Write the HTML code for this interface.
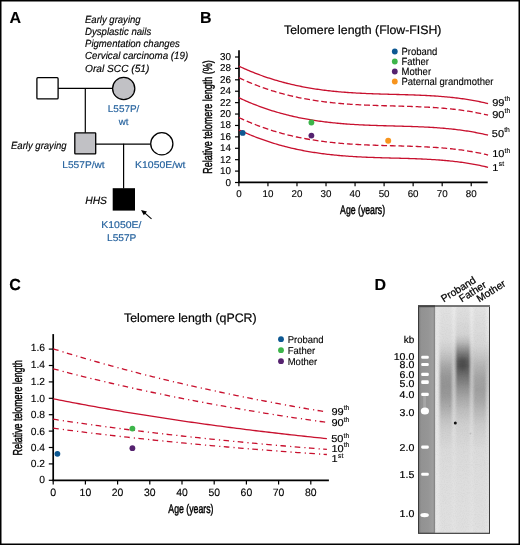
<!DOCTYPE html><html><head><meta charset="utf-8"><style>html,body{margin:0;padding:0;background:#fff;}svg{display:block;will-change:transform;}text{font-family:"Liberation Sans", sans-serif;text-rendering:geometricPrecision;}</style></head><body>
<svg width="520" height="545" viewBox="0 0 520 545">
<defs>
<filter id="blur2" x="-50%" y="-50%" width="200%" height="200%"><feGaussianBlur stdDeviation="2.5"/></filter>
<filter id="blur1" x="-50%" y="-50%" width="200%" height="200%"><feGaussianBlur stdDeviation="0.75"/></filter>
<filter id="blur4" x="-50%" y="-50%" width="200%" height="200%"><feGaussianBlur stdDeviation="4"/></filter>
<clipPath id="gelclip"><rect x="435" y="307" width="54.0" height="225.6"/></clipPath>
</defs>
<rect x="0" y="0" width="520" height="545" fill="#fff"/>
<text x="9.60" y="22.80" font-size="16.00" text-anchor="start" fill="#000" stroke="#000" stroke-width="0.12" font-weight="bold" font-style="normal" >A</text>
<text x="200.00" y="22.90" font-size="16.00" text-anchor="start" fill="#000" stroke="#000" stroke-width="0.12" font-weight="bold" font-style="normal" >B</text>
<text x="9.20" y="289.60" font-size="16.00" text-anchor="start" fill="#000" stroke="#000" stroke-width="0.12" font-weight="bold" font-style="normal" >C</text>
<text x="374.60" y="289.60" font-size="16.00" text-anchor="start" fill="#000" stroke="#000" stroke-width="0.12" font-weight="bold" font-style="normal" >D</text>
<text x="85.00" y="22.70" font-size="10.40" text-anchor="start" fill="#000" stroke="#000" stroke-width="0.15" font-weight="normal" font-style="italic" textLength="55.6" lengthAdjust="spacingAndGlyphs">Early graying</text>
<text x="85.00" y="34.90" font-size="10.40" text-anchor="start" fill="#000" stroke="#000" stroke-width="0.15" font-weight="normal" font-style="italic" textLength="66.2" lengthAdjust="spacingAndGlyphs">Dysplastic nails</text>
<text x="85.00" y="47.10" font-size="10.40" text-anchor="start" fill="#000" stroke="#000" stroke-width="0.15" font-weight="normal" font-style="italic" textLength="94.8" lengthAdjust="spacingAndGlyphs">Pigmentation changes</text>
<text x="85.00" y="59.30" font-size="10.40" text-anchor="start" fill="#000" stroke="#000" stroke-width="0.15" font-weight="normal" font-style="italic" textLength="103.2" lengthAdjust="spacingAndGlyphs">Cervical carcinoma (19)</text>
<text x="85.00" y="71.50" font-size="10.40" text-anchor="start" fill="#000" stroke="#000" stroke-width="0.15" font-weight="normal" font-style="italic" textLength="64.4" lengthAdjust="spacingAndGlyphs">Oral SCC (51)</text>
<g stroke="#000" stroke-width="1.30" fill="none">
<line x1="58.1" y1="88.4" x2="112.3" y2="88.4" stroke-width="1.25"/>
<line x1="85.3" y1="88.3" x2="85.3" y2="132.8" stroke-width="1.2"/>
<line x1="95.8" y1="144.0" x2="150.5" y2="144.0" stroke-width="1.25"/>
<line x1="123.6" y1="143.8" x2="123.6" y2="188.5" stroke-width="1.2"/>
<rect x="36.9" y="77.7" width="21.2" height="21.2" rx="1" fill="#fff"/>
<circle cx="123.7" cy="88.5" r="11.1" fill="#c1c1c5"/>
<rect x="74.8" y="132.9" width="20.9" height="21.0" rx="0.6" fill="#c1c1c5"/>
<circle cx="161.8" cy="143.8" r="11.1" fill="#fff"/>
<rect x="112.7" y="188.2" width="22.3" height="22.4" fill="#000" stroke="none"/>
<line x1="151.5" y1="218.8" x2="143.5" y2="211.9" stroke-width="1.1"/>
</g>
<path d="M141.0,209.9 L147.0,211.6 L143.8,215.3 Z" fill="#000"/>
<text x="123.60" y="112.00" font-size="9.70" text-anchor="middle" fill="#24619d" stroke="#24619d" stroke-width="0.15" font-weight="normal" font-style="normal" textLength="31.6" lengthAdjust="spacingAndGlyphs">L557P/</text>
<text x="123.70" y="124.50" font-size="9.70" text-anchor="middle" fill="#24619d" stroke="#24619d" stroke-width="0.15" font-weight="normal" font-style="normal" >wt</text>
<text x="11.00" y="149.10" font-size="10.40" text-anchor="start" fill="#000" stroke="#000" stroke-width="0.15" font-weight="normal" font-style="italic" textLength="55.6" lengthAdjust="spacingAndGlyphs">Early graying</text>
<text x="83.50" y="168.20" font-size="9.70" text-anchor="middle" fill="#24619d" stroke="#24619d" stroke-width="0.15" font-weight="normal" font-style="normal" textLength="42.4" lengthAdjust="spacingAndGlyphs">L557P/wt</text>
<text x="160.30" y="168.40" font-size="9.70" text-anchor="middle" fill="#24619d" stroke="#24619d" stroke-width="0.15" font-weight="normal" font-style="normal" textLength="50.4" lengthAdjust="spacingAndGlyphs">K1050E/wt</text>
<text x="85.20" y="203.50" font-size="10.40" text-anchor="start" fill="#000" stroke="#000" stroke-width="0.15" font-weight="normal" font-style="italic" textLength="21.8" lengthAdjust="spacingAndGlyphs">HHS</text>
<text x="121.40" y="227.80" font-size="9.70" text-anchor="middle" fill="#24619d" stroke="#24619d" stroke-width="0.15" font-weight="normal" font-style="normal" textLength="40.2" lengthAdjust="spacingAndGlyphs">K1050E/</text>
<text x="121.70" y="240.50" font-size="9.70" text-anchor="middle" fill="#24619d" stroke="#24619d" stroke-width="0.15" font-weight="normal" font-style="normal" textLength="29.4" lengthAdjust="spacingAndGlyphs">L557P</text>
<text x="284.00" y="33.60" font-size="12.30" text-anchor="start" fill="#000" stroke="#000" stroke-width="0.20" font-weight="normal" font-style="normal" textLength="157.4" lengthAdjust="spacingAndGlyphs">Telomere length (Flow-FISH)</text>
<g stroke="#000" stroke-width="1.4" fill="none">
<line x1="239" y1="50.2" x2="239" y2="183.1" stroke-width="1.7"/>
<line x1="238.2" y1="182.3" x2="487.7" y2="182.3" stroke-width="1.7"/>
<line x1="235" y1="57.00" x2="239" y2="57.00" stroke-width="1.2"/>
<line x1="235" y1="68.41" x2="239" y2="68.41" stroke-width="1.2"/>
<line x1="235" y1="79.82" x2="239" y2="79.82" stroke-width="1.2"/>
<line x1="235" y1="91.23" x2="239" y2="91.23" stroke-width="1.2"/>
<line x1="235" y1="102.64" x2="239" y2="102.64" stroke-width="1.2"/>
<line x1="235" y1="114.05" x2="239" y2="114.05" stroke-width="1.2"/>
<line x1="235" y1="125.46" x2="239" y2="125.46" stroke-width="1.2"/>
<line x1="235" y1="136.87" x2="239" y2="136.87" stroke-width="1.2"/>
<line x1="235" y1="148.28" x2="239" y2="148.28" stroke-width="1.2"/>
<line x1="235" y1="159.69" x2="239" y2="159.69" stroke-width="1.2"/>
<line x1="235" y1="171.10" x2="239" y2="171.10" stroke-width="1.2"/>
<line x1="235" y1="182.51" x2="239" y2="182.51" stroke-width="1.2"/>
<line x1="238.90" y1="182.2" x2="238.90" y2="186.2" stroke-width="1.2"/>
<line x1="267.94" y1="182.2" x2="267.94" y2="186.2" stroke-width="1.2"/>
<line x1="296.98" y1="182.2" x2="296.98" y2="186.2" stroke-width="1.2"/>
<line x1="326.02" y1="182.2" x2="326.02" y2="186.2" stroke-width="1.2"/>
<line x1="355.06" y1="182.2" x2="355.06" y2="186.2" stroke-width="1.2"/>
<line x1="384.10" y1="182.2" x2="384.10" y2="186.2" stroke-width="1.2"/>
<line x1="413.14" y1="182.2" x2="413.14" y2="186.2" stroke-width="1.2"/>
<line x1="442.18" y1="182.2" x2="442.18" y2="186.2" stroke-width="1.2"/>
<line x1="471.22" y1="182.2" x2="471.22" y2="186.2" stroke-width="1.2"/>
</g>
<text x="231.00" y="60.00" font-size="9.90" text-anchor="end" fill="#000" stroke="#000" stroke-width="0.12" font-weight="normal" font-style="normal" >30</text>
<text x="231.00" y="71.41" font-size="9.90" text-anchor="end" fill="#000" stroke="#000" stroke-width="0.12" font-weight="normal" font-style="normal" >28</text>
<text x="231.00" y="82.82" font-size="9.90" text-anchor="end" fill="#000" stroke="#000" stroke-width="0.12" font-weight="normal" font-style="normal" >26</text>
<text x="231.00" y="94.23" font-size="9.90" text-anchor="end" fill="#000" stroke="#000" stroke-width="0.12" font-weight="normal" font-style="normal" >24</text>
<text x="231.00" y="105.64" font-size="9.90" text-anchor="end" fill="#000" stroke="#000" stroke-width="0.12" font-weight="normal" font-style="normal" >22</text>
<text x="231.00" y="117.05" font-size="9.90" text-anchor="end" fill="#000" stroke="#000" stroke-width="0.12" font-weight="normal" font-style="normal" >20</text>
<text x="231.00" y="128.46" font-size="9.90" text-anchor="end" fill="#000" stroke="#000" stroke-width="0.12" font-weight="normal" font-style="normal" >18</text>
<text x="231.00" y="139.87" font-size="9.90" text-anchor="end" fill="#000" stroke="#000" stroke-width="0.12" font-weight="normal" font-style="normal" >16</text>
<text x="231.00" y="151.28" font-size="9.90" text-anchor="end" fill="#000" stroke="#000" stroke-width="0.12" font-weight="normal" font-style="normal" >14</text>
<text x="231.00" y="162.69" font-size="9.90" text-anchor="end" fill="#000" stroke="#000" stroke-width="0.12" font-weight="normal" font-style="normal" >12</text>
<text x="231.00" y="174.10" font-size="9.90" text-anchor="end" fill="#000" stroke="#000" stroke-width="0.12" font-weight="normal" font-style="normal" >10</text>
<text x="231.00" y="185.51" font-size="9.90" text-anchor="end" fill="#000" stroke="#000" stroke-width="0.12" font-weight="normal" font-style="normal" >0</text>
<text x="238.90" y="196.70" font-size="9.80" text-anchor="middle" fill="#000" stroke="#000" stroke-width="0.12" font-weight="normal" font-style="normal" >0</text>
<text x="267.94" y="196.70" font-size="9.80" text-anchor="middle" fill="#000" stroke="#000" stroke-width="0.12" font-weight="normal" font-style="normal" >10</text>
<text x="296.98" y="196.70" font-size="9.80" text-anchor="middle" fill="#000" stroke="#000" stroke-width="0.12" font-weight="normal" font-style="normal" >20</text>
<text x="326.02" y="196.70" font-size="9.80" text-anchor="middle" fill="#000" stroke="#000" stroke-width="0.12" font-weight="normal" font-style="normal" >30</text>
<text x="355.06" y="196.70" font-size="9.80" text-anchor="middle" fill="#000" stroke="#000" stroke-width="0.12" font-weight="normal" font-style="normal" >40</text>
<text x="384.10" y="196.70" font-size="9.80" text-anchor="middle" fill="#000" stroke="#000" stroke-width="0.12" font-weight="normal" font-style="normal" >50</text>
<text x="413.14" y="196.70" font-size="9.80" text-anchor="middle" fill="#000" stroke="#000" stroke-width="0.12" font-weight="normal" font-style="normal" >60</text>
<text x="442.18" y="196.70" font-size="9.80" text-anchor="middle" fill="#000" stroke="#000" stroke-width="0.12" font-weight="normal" font-style="normal" >70</text>
<text x="471.22" y="196.70" font-size="9.80" text-anchor="middle" fill="#000" stroke="#000" stroke-width="0.12" font-weight="normal" font-style="normal" >80</text>
<text transform="translate(212.0,173.8) rotate(-90)" x="0" y="0" font-size="13" textLength="113.6" lengthAdjust="spacingAndGlyphs" stroke="#000" stroke-width="0.45">Relative telomere length (%)</text>
<text x="340.1" y="213.9" font-size="12.5" textLength="45" lengthAdjust="spacingAndGlyphs" stroke="#000" stroke-width="0.45">Age (years)</text>
<g fill="none" stroke="#c8102e" stroke-width="1.3">
<path d="M238.90,66.17 L240.35,66.84 L241.80,67.51 L243.26,68.17 L244.71,68.81 L246.16,69.45 L247.61,70.07 L249.06,70.69 L250.52,71.29 L251.97,71.89 L253.42,72.47 L254.87,73.04 L256.32,73.61 L257.78,74.16 L259.23,74.70 L260.68,75.24 L262.13,75.76 L263.58,76.28 L265.04,76.78 L266.49,77.27 L267.94,77.76 L269.39,78.24 L270.84,78.70 L272.30,79.16 L273.75,79.61 L275.20,80.05 L276.65,80.48 L278.10,80.90 L279.56,81.31 L281.01,81.72 L282.46,82.11 L283.91,82.50 L285.36,82.88 L286.82,83.25 L288.27,83.61 L289.72,83.96 L291.17,84.31 L292.62,84.65 L294.08,84.98 L295.53,85.30 L296.98,85.61 L298.43,85.92 L299.88,86.22 L301.34,86.51 L302.79,86.79 L304.24,87.07 L305.69,87.34 L307.14,87.60 L308.60,87.86 L310.05,88.11 L311.50,88.35 L312.95,88.58 L314.40,88.81 L315.86,89.03 L317.31,89.25 L318.76,89.46 L320.21,89.66 L321.66,89.86 L323.12,90.05 L324.57,90.23 L326.02,90.41 L327.47,90.59 L328.92,90.75 L330.38,90.92 L331.83,91.07 L333.28,91.23 L334.73,91.37 L336.18,91.51 L337.64,91.65 L339.09,91.78 L340.54,91.91 L341.99,92.03 L343.44,92.15 L344.90,92.27 L346.35,92.38 L347.80,92.48 L349.25,92.58 L350.70,92.68 L352.16,92.77 L353.61,92.86 L355.06,92.95 L356.51,93.03 L357.96,93.11 L359.42,93.19 L360.87,93.27 L362.32,93.34 L363.77,93.40 L365.22,93.47 L366.68,93.53 L368.13,93.59 L369.58,93.65 L371.03,93.71 L372.48,93.76 L373.94,93.81 L375.39,93.86 L376.84,93.91 L378.29,93.96 L379.74,94.00 L381.20,94.05 L382.65,94.09 L384.10,94.13 L385.55,94.17 L387.00,94.21 L388.46,94.25 L389.91,94.29 L391.36,94.33 L392.81,94.37 L394.26,94.41 L395.72,94.45 L397.17,94.48 L398.62,94.52 L400.07,94.56 L401.52,94.60 L402.98,94.64 L404.43,94.68 L405.88,94.73 L407.33,94.77 L408.78,94.82 L410.24,94.86 L411.69,94.91 L413.14,94.96 L414.59,95.01 L416.04,95.07 L417.50,95.12 L418.95,95.18 L420.40,95.24 L421.85,95.30 L423.30,95.37 L424.76,95.44 L426.21,95.51 L427.66,95.59 L429.11,95.66 L430.56,95.75 L432.02,95.83 L433.47,95.92 L434.92,96.01 L436.37,96.11 L437.82,96.21 L439.28,96.32 L440.73,96.43 L442.18,96.55 L443.63,96.67 L445.08,96.79 L446.54,96.93 L447.99,97.06 L449.44,97.20 L450.89,97.35 L452.34,97.50 L453.80,97.66 L455.25,97.83 L456.70,98.00 L458.15,98.18 L459.60,98.37 L461.06,98.56 L462.51,98.76 L463.96,98.97 L465.41,99.18 L466.86,99.40 L468.32,99.63 L469.77,99.87 L471.22,100.11 L472.67,100.37 L474.12,100.63 L475.58,100.90 L477.03,101.18 L478.48,101.47 L479.93,101.76 L481.38,102.07 L482.84,102.39 L484.29,102.71 L485.74,103.05 L487.19,103.39 L488.06,103.60"/>
<path d="M238.90,77.77 L240.35,78.44 L241.80,79.11 L243.26,79.77 L244.71,80.41 L246.16,81.05 L247.61,81.67 L249.06,82.29 L250.52,82.89 L251.97,83.49 L253.42,84.07 L254.87,84.64 L256.32,85.21 L257.78,85.76 L259.23,86.30 L260.68,86.84 L262.13,87.36 L263.58,87.88 L265.04,88.38 L266.49,88.87 L267.94,89.36 L269.39,89.84 L270.84,90.30 L272.30,90.76 L273.75,91.21 L275.20,91.65 L276.65,92.08 L278.10,92.50 L279.56,92.91 L281.01,93.32 L282.46,93.71 L283.91,94.10 L285.36,94.48 L286.82,94.85 L288.27,95.21 L289.72,95.56 L291.17,95.91 L292.62,96.25 L294.08,96.58 L295.53,96.90 L296.98,97.21 L298.43,97.52 L299.88,97.82 L301.34,98.11 L302.79,98.39 L304.24,98.67 L305.69,98.94 L307.14,99.20 L308.60,99.46 L310.05,99.71 L311.50,99.95 L312.95,100.18 L314.40,100.41 L315.86,100.63 L317.31,100.85 L318.76,101.06 L320.21,101.26 L321.66,101.46 L323.12,101.65 L324.57,101.83 L326.02,102.01 L327.47,102.19 L328.92,102.35 L330.38,102.52 L331.83,102.67 L333.28,102.83 L334.73,102.97 L336.18,103.11 L337.64,103.25 L339.09,103.38 L340.54,103.51 L341.99,103.63 L343.44,103.75 L344.90,103.87 L346.35,103.98 L347.80,104.08 L349.25,104.18 L350.70,104.28 L352.16,104.37 L353.61,104.46 L355.06,104.55 L356.51,104.63 L357.96,104.71 L359.42,104.79 L360.87,104.87 L362.32,104.94 L363.77,105.00 L365.22,105.07 L366.68,105.13 L368.13,105.19 L369.58,105.25 L371.03,105.31 L372.48,105.36 L373.94,105.41 L375.39,105.46 L376.84,105.51 L378.29,105.56 L379.74,105.60 L381.20,105.65 L382.65,105.69 L384.10,105.73 L385.55,105.77 L387.00,105.81 L388.46,105.85 L389.91,105.89 L391.36,105.93 L392.81,105.97 L394.26,106.01 L395.72,106.05 L397.17,106.08 L398.62,106.12 L400.07,106.16 L401.52,106.20 L402.98,106.24 L404.43,106.28 L405.88,106.33 L407.33,106.37 L408.78,106.42 L410.24,106.46 L411.69,106.51 L413.14,106.56 L414.59,106.61 L416.04,106.67 L417.50,106.72 L418.95,106.78 L420.40,106.84 L421.85,106.90 L423.30,106.97 L424.76,107.04 L426.21,107.11 L427.66,107.19 L429.11,107.26 L430.56,107.35 L432.02,107.43 L433.47,107.52 L434.92,107.61 L436.37,107.71 L437.82,107.81 L439.28,107.92 L440.73,108.03 L442.18,108.15 L443.63,108.27 L445.08,108.39 L446.54,108.53 L447.99,108.66 L449.44,108.80 L450.89,108.95 L452.34,109.10 L453.80,109.26 L455.25,109.43 L456.70,109.60 L458.15,109.78 L459.60,109.97 L461.06,110.16 L462.51,110.36 L463.96,110.57 L465.41,110.78 L466.86,111.00 L468.32,111.23 L469.77,111.47 L471.22,111.71 L472.67,111.97 L474.12,112.23 L475.58,112.50 L477.03,112.78 L478.48,113.07 L479.93,113.36 L481.38,113.67 L482.84,113.99 L484.29,114.31 L485.74,114.65 L487.19,114.99 L488.06,115.20" stroke-dasharray="5.8 2.8"/>
<path d="M238.90,97.77 L240.35,98.44 L241.80,99.11 L243.26,99.77 L244.71,100.41 L246.16,101.05 L247.61,101.67 L249.06,102.29 L250.52,102.89 L251.97,103.49 L253.42,104.07 L254.87,104.64 L256.32,105.21 L257.78,105.76 L259.23,106.30 L260.68,106.84 L262.13,107.36 L263.58,107.88 L265.04,108.38 L266.49,108.87 L267.94,109.36 L269.39,109.84 L270.84,110.30 L272.30,110.76 L273.75,111.21 L275.20,111.65 L276.65,112.08 L278.10,112.50 L279.56,112.91 L281.01,113.32 L282.46,113.71 L283.91,114.10 L285.36,114.48 L286.82,114.85 L288.27,115.21 L289.72,115.56 L291.17,115.91 L292.62,116.25 L294.08,116.58 L295.53,116.90 L296.98,117.21 L298.43,117.52 L299.88,117.82 L301.34,118.11 L302.79,118.39 L304.24,118.67 L305.69,118.94 L307.14,119.20 L308.60,119.46 L310.05,119.71 L311.50,119.95 L312.95,120.18 L314.40,120.41 L315.86,120.63 L317.31,120.85 L318.76,121.06 L320.21,121.26 L321.66,121.46 L323.12,121.65 L324.57,121.83 L326.02,122.01 L327.47,122.19 L328.92,122.35 L330.38,122.52 L331.83,122.67 L333.28,122.83 L334.73,122.97 L336.18,123.11 L337.64,123.25 L339.09,123.38 L340.54,123.51 L341.99,123.63 L343.44,123.75 L344.90,123.87 L346.35,123.98 L347.80,124.08 L349.25,124.18 L350.70,124.28 L352.16,124.37 L353.61,124.46 L355.06,124.55 L356.51,124.63 L357.96,124.71 L359.42,124.79 L360.87,124.87 L362.32,124.94 L363.77,125.00 L365.22,125.07 L366.68,125.13 L368.13,125.19 L369.58,125.25 L371.03,125.31 L372.48,125.36 L373.94,125.41 L375.39,125.46 L376.84,125.51 L378.29,125.56 L379.74,125.60 L381.20,125.65 L382.65,125.69 L384.10,125.73 L385.55,125.77 L387.00,125.81 L388.46,125.85 L389.91,125.89 L391.36,125.93 L392.81,125.97 L394.26,126.01 L395.72,126.05 L397.17,126.08 L398.62,126.12 L400.07,126.16 L401.52,126.20 L402.98,126.24 L404.43,126.28 L405.88,126.33 L407.33,126.37 L408.78,126.42 L410.24,126.46 L411.69,126.51 L413.14,126.56 L414.59,126.61 L416.04,126.67 L417.50,126.72 L418.95,126.78 L420.40,126.84 L421.85,126.90 L423.30,126.97 L424.76,127.04 L426.21,127.11 L427.66,127.19 L429.11,127.26 L430.56,127.35 L432.02,127.43 L433.47,127.52 L434.92,127.61 L436.37,127.71 L437.82,127.81 L439.28,127.92 L440.73,128.03 L442.18,128.15 L443.63,128.27 L445.08,128.39 L446.54,128.53 L447.99,128.66 L449.44,128.80 L450.89,128.95 L452.34,129.10 L453.80,129.26 L455.25,129.43 L456.70,129.60 L458.15,129.78 L459.60,129.97 L461.06,130.16 L462.51,130.36 L463.96,130.57 L465.41,130.78 L466.86,131.00 L468.32,131.23 L469.77,131.47 L471.22,131.71 L472.67,131.97 L474.12,132.23 L475.58,132.50 L477.03,132.78 L478.48,133.07 L479.93,133.36 L481.38,133.67 L482.84,133.99 L484.29,134.31 L485.74,134.65 L487.19,134.99 L488.06,135.20"/>
<path d="M238.90,117.57 L240.35,118.24 L241.80,118.91 L243.26,119.57 L244.71,120.21 L246.16,120.85 L247.61,121.47 L249.06,122.09 L250.52,122.69 L251.97,123.29 L253.42,123.87 L254.87,124.44 L256.32,125.01 L257.78,125.56 L259.23,126.10 L260.68,126.64 L262.13,127.16 L263.58,127.68 L265.04,128.18 L266.49,128.67 L267.94,129.16 L269.39,129.64 L270.84,130.10 L272.30,130.56 L273.75,131.01 L275.20,131.45 L276.65,131.88 L278.10,132.30 L279.56,132.71 L281.01,133.12 L282.46,133.51 L283.91,133.90 L285.36,134.28 L286.82,134.65 L288.27,135.01 L289.72,135.36 L291.17,135.71 L292.62,136.05 L294.08,136.38 L295.53,136.70 L296.98,137.01 L298.43,137.32 L299.88,137.62 L301.34,137.91 L302.79,138.19 L304.24,138.47 L305.69,138.74 L307.14,139.00 L308.60,139.26 L310.05,139.51 L311.50,139.75 L312.95,139.98 L314.40,140.21 L315.86,140.43 L317.31,140.65 L318.76,140.86 L320.21,141.06 L321.66,141.26 L323.12,141.45 L324.57,141.63 L326.02,141.81 L327.47,141.99 L328.92,142.15 L330.38,142.32 L331.83,142.47 L333.28,142.63 L334.73,142.77 L336.18,142.91 L337.64,143.05 L339.09,143.18 L340.54,143.31 L341.99,143.43 L343.44,143.55 L344.90,143.67 L346.35,143.78 L347.80,143.88 L349.25,143.98 L350.70,144.08 L352.16,144.17 L353.61,144.26 L355.06,144.35 L356.51,144.43 L357.96,144.51 L359.42,144.59 L360.87,144.67 L362.32,144.74 L363.77,144.80 L365.22,144.87 L366.68,144.93 L368.13,144.99 L369.58,145.05 L371.03,145.11 L372.48,145.16 L373.94,145.21 L375.39,145.26 L376.84,145.31 L378.29,145.36 L379.74,145.40 L381.20,145.45 L382.65,145.49 L384.10,145.53 L385.55,145.57 L387.00,145.61 L388.46,145.65 L389.91,145.69 L391.36,145.73 L392.81,145.77 L394.26,145.81 L395.72,145.85 L397.17,145.88 L398.62,145.92 L400.07,145.96 L401.52,146.00 L402.98,146.04 L404.43,146.08 L405.88,146.13 L407.33,146.17 L408.78,146.22 L410.24,146.26 L411.69,146.31 L413.14,146.36 L414.59,146.41 L416.04,146.47 L417.50,146.52 L418.95,146.58 L420.40,146.64 L421.85,146.70 L423.30,146.77 L424.76,146.84 L426.21,146.91 L427.66,146.99 L429.11,147.06 L430.56,147.15 L432.02,147.23 L433.47,147.32 L434.92,147.41 L436.37,147.51 L437.82,147.61 L439.28,147.72 L440.73,147.83 L442.18,147.95 L443.63,148.07 L445.08,148.19 L446.54,148.33 L447.99,148.46 L449.44,148.60 L450.89,148.75 L452.34,148.90 L453.80,149.06 L455.25,149.23 L456.70,149.40 L458.15,149.58 L459.60,149.77 L461.06,149.96 L462.51,150.16 L463.96,150.37 L465.41,150.58 L466.86,150.80 L468.32,151.03 L469.77,151.27 L471.22,151.51 L472.67,151.77 L474.12,152.03 L475.58,152.30 L477.03,152.58 L478.48,152.87 L479.93,153.16 L481.38,153.47 L482.84,153.79 L484.29,154.11 L485.74,154.45 L487.19,154.79 L488.06,155.00" stroke-dasharray="5.8 2.8"/>
<path d="M238.90,129.87 L240.35,130.54 L241.80,131.21 L243.26,131.87 L244.71,132.51 L246.16,133.15 L247.61,133.77 L249.06,134.39 L250.52,134.99 L251.97,135.59 L253.42,136.17 L254.87,136.74 L256.32,137.31 L257.78,137.86 L259.23,138.40 L260.68,138.94 L262.13,139.46 L263.58,139.98 L265.04,140.48 L266.49,140.97 L267.94,141.46 L269.39,141.94 L270.84,142.40 L272.30,142.86 L273.75,143.31 L275.20,143.75 L276.65,144.18 L278.10,144.60 L279.56,145.01 L281.01,145.42 L282.46,145.81 L283.91,146.20 L285.36,146.58 L286.82,146.95 L288.27,147.31 L289.72,147.66 L291.17,148.01 L292.62,148.35 L294.08,148.68 L295.53,149.00 L296.98,149.31 L298.43,149.62 L299.88,149.92 L301.34,150.21 L302.79,150.49 L304.24,150.77 L305.69,151.04 L307.14,151.30 L308.60,151.56 L310.05,151.81 L311.50,152.05 L312.95,152.28 L314.40,152.51 L315.86,152.73 L317.31,152.95 L318.76,153.16 L320.21,153.36 L321.66,153.56 L323.12,153.75 L324.57,153.93 L326.02,154.11 L327.47,154.29 L328.92,154.45 L330.38,154.62 L331.83,154.77 L333.28,154.93 L334.73,155.07 L336.18,155.21 L337.64,155.35 L339.09,155.48 L340.54,155.61 L341.99,155.73 L343.44,155.85 L344.90,155.97 L346.35,156.08 L347.80,156.18 L349.25,156.28 L350.70,156.38 L352.16,156.47 L353.61,156.56 L355.06,156.65 L356.51,156.73 L357.96,156.81 L359.42,156.89 L360.87,156.97 L362.32,157.04 L363.77,157.10 L365.22,157.17 L366.68,157.23 L368.13,157.29 L369.58,157.35 L371.03,157.41 L372.48,157.46 L373.94,157.51 L375.39,157.56 L376.84,157.61 L378.29,157.66 L379.74,157.70 L381.20,157.75 L382.65,157.79 L384.10,157.83 L385.55,157.87 L387.00,157.91 L388.46,157.95 L389.91,157.99 L391.36,158.03 L392.81,158.07 L394.26,158.11 L395.72,158.15 L397.17,158.18 L398.62,158.22 L400.07,158.26 L401.52,158.30 L402.98,158.34 L404.43,158.38 L405.88,158.43 L407.33,158.47 L408.78,158.52 L410.24,158.56 L411.69,158.61 L413.14,158.66 L414.59,158.71 L416.04,158.77 L417.50,158.82 L418.95,158.88 L420.40,158.94 L421.85,159.00 L423.30,159.07 L424.76,159.14 L426.21,159.21 L427.66,159.29 L429.11,159.36 L430.56,159.45 L432.02,159.53 L433.47,159.62 L434.92,159.71 L436.37,159.81 L437.82,159.91 L439.28,160.02 L440.73,160.13 L442.18,160.25 L443.63,160.37 L445.08,160.49 L446.54,160.63 L447.99,160.76 L449.44,160.90 L450.89,161.05 L452.34,161.20 L453.80,161.36 L455.25,161.53 L456.70,161.70 L458.15,161.88 L459.60,162.07 L461.06,162.26 L462.51,162.46 L463.96,162.67 L465.41,162.88 L466.86,163.10 L468.32,163.33 L469.77,163.57 L471.22,163.81 L472.67,164.07 L474.12,164.33 L475.58,164.60 L477.03,164.88 L478.48,165.17 L479.93,165.46 L481.38,165.77 L482.84,166.09 L484.29,166.41 L485.74,166.75 L487.19,167.09 L488.06,167.30"/>
</g>
<text x="492.20" y="105.60" font-size="10.00" stroke="#000" stroke-width="0.15" textLength="12.23" lengthAdjust="spacingAndGlyphs">99</text>
<text x="504.53" y="100.70" font-size="6.80" stroke="#000" stroke-width="0.1">th</text>
<text x="492.20" y="117.80" font-size="10.00" stroke="#000" stroke-width="0.15" textLength="12.23" lengthAdjust="spacingAndGlyphs">90</text>
<text x="504.53" y="112.90" font-size="6.80" stroke="#000" stroke-width="0.1">th</text>
<text x="491.80" y="137.10" font-size="10.00" stroke="#000" stroke-width="0.15" textLength="12.23" lengthAdjust="spacingAndGlyphs">50</text>
<text x="504.13" y="132.20" font-size="6.80" stroke="#000" stroke-width="0.1">th</text>
<text x="492.20" y="157.40" font-size="10.00" stroke="#000" stroke-width="0.15" textLength="12.23" lengthAdjust="spacingAndGlyphs">10</text>
<text x="504.53" y="152.50" font-size="6.80" stroke="#000" stroke-width="0.1">th</text>
<text x="492.20" y="170.80" font-size="10.00" stroke="#000" stroke-width="0.15" textLength="6.12" lengthAdjust="spacingAndGlyphs">1</text>
<text x="498.82" y="165.90" font-size="6.80" stroke="#000" stroke-width="0.1">st</text>
<circle cx="242.7" cy="132.9" r="2.9" fill="#0d5892"/>
<circle cx="311.4" cy="122.5" r="2.9" fill="#3db54a"/>
<circle cx="311.4" cy="135.6" r="2.9" fill="#55226f"/>
<circle cx="388.2" cy="140.7" r="3.0" fill="#f7941d"/>
<circle cx="394.8" cy="51.50" r="2.9" fill="#0d5892"/>
<text x="401.50" y="54.85" font-size="10.40" text-anchor="start" fill="#000" stroke="#000" stroke-width="0.12" font-weight="normal" font-style="normal" textLength="35.91" lengthAdjust="spacingAndGlyphs">Proband</text>
<circle cx="394.8" cy="61.50" r="2.9" fill="#3db54a"/>
<text x="401.50" y="64.85" font-size="10.40" text-anchor="start" fill="#000" stroke="#000" stroke-width="0.12" font-weight="normal" font-style="normal" textLength="27.45" lengthAdjust="spacingAndGlyphs">Father</text>
<circle cx="394.8" cy="71.50" r="2.9" fill="#55226f"/>
<text x="401.50" y="74.85" font-size="10.40" text-anchor="start" fill="#000" stroke="#000" stroke-width="0.12" font-weight="normal" font-style="normal" textLength="29.56" lengthAdjust="spacingAndGlyphs">Mother</text>
<circle cx="394.8" cy="81.50" r="2.9" fill="#f7941d"/>
<text x="401.50" y="84.85" font-size="10.40" text-anchor="start" fill="#000" stroke="#000" stroke-width="0.12" font-weight="normal" font-style="normal" textLength="91.88" lengthAdjust="spacingAndGlyphs">Paternal grandmother</text>
<text x="124.00" y="322.10" font-size="12.30" text-anchor="start" fill="#000" stroke="#000" stroke-width="0.20" font-weight="normal" font-style="normal" textLength="132.6" lengthAdjust="spacingAndGlyphs">Telomere length (qPCR)</text>
<g stroke="#000" stroke-width="1.4" fill="none">
<line x1="53.2" y1="334.1" x2="53.2" y2="481.1" stroke-width="1.7"/>
<line x1="52.4" y1="480.3" x2="328.9" y2="480.3" stroke-width="1.7"/>
<line x1="48.8" y1="480.30" x2="53.2" y2="480.30" stroke-width="1.2"/>
<line x1="48.8" y1="463.90" x2="53.2" y2="463.90" stroke-width="1.2"/>
<line x1="48.8" y1="447.50" x2="53.2" y2="447.50" stroke-width="1.2"/>
<line x1="48.8" y1="431.10" x2="53.2" y2="431.10" stroke-width="1.2"/>
<line x1="48.8" y1="414.70" x2="53.2" y2="414.70" stroke-width="1.2"/>
<line x1="48.8" y1="398.30" x2="53.2" y2="398.30" stroke-width="1.2"/>
<line x1="48.8" y1="381.90" x2="53.2" y2="381.90" stroke-width="1.2"/>
<line x1="48.8" y1="365.50" x2="53.2" y2="365.50" stroke-width="1.2"/>
<line x1="48.8" y1="349.10" x2="53.2" y2="349.10" stroke-width="1.2"/>
<line x1="53.20" y1="480.3" x2="53.20" y2="484.4" stroke-width="1.2"/>
<line x1="85.40" y1="480.3" x2="85.40" y2="484.4" stroke-width="1.2"/>
<line x1="117.60" y1="480.3" x2="117.60" y2="484.4" stroke-width="1.2"/>
<line x1="149.80" y1="480.3" x2="149.80" y2="484.4" stroke-width="1.2"/>
<line x1="182.00" y1="480.3" x2="182.00" y2="484.4" stroke-width="1.2"/>
<line x1="214.20" y1="480.3" x2="214.20" y2="484.4" stroke-width="1.2"/>
<line x1="246.40" y1="480.3" x2="246.40" y2="484.4" stroke-width="1.2"/>
<line x1="278.60" y1="480.3" x2="278.60" y2="484.4" stroke-width="1.2"/>
<line x1="310.80" y1="480.3" x2="310.80" y2="484.4" stroke-width="1.2"/>
</g>
<text x="45.00" y="483.29" font-size="10.30" text-anchor="end" fill="#000" stroke="#000" stroke-width="0.12" font-weight="normal" font-style="normal" >0</text>
<text x="45.00" y="467.39" font-size="10.30" text-anchor="end" fill="#000" stroke="#000" stroke-width="0.12" font-weight="normal" font-style="normal" textLength="14.3" lengthAdjust="spacingAndGlyphs">0.2</text>
<text x="45.00" y="451.19" font-size="10.30" text-anchor="end" fill="#000" stroke="#000" stroke-width="0.12" font-weight="normal" font-style="normal" textLength="14.3" lengthAdjust="spacingAndGlyphs">0.4</text>
<text x="45.00" y="434.69" font-size="10.30" text-anchor="end" fill="#000" stroke="#000" stroke-width="0.12" font-weight="normal" font-style="normal" textLength="14.3" lengthAdjust="spacingAndGlyphs">0.6</text>
<text x="45.00" y="418.49" font-size="10.30" text-anchor="end" fill="#000" stroke="#000" stroke-width="0.12" font-weight="normal" font-style="normal" textLength="14.3" lengthAdjust="spacingAndGlyphs">0.8</text>
<text x="45.00" y="402.19" font-size="10.30" text-anchor="end" fill="#000" stroke="#000" stroke-width="0.12" font-weight="normal" font-style="normal" textLength="14.3" lengthAdjust="spacingAndGlyphs">1.0</text>
<text x="45.00" y="385.39" font-size="10.30" text-anchor="end" fill="#000" stroke="#000" stroke-width="0.12" font-weight="normal" font-style="normal" textLength="14.3" lengthAdjust="spacingAndGlyphs">1.2</text>
<text x="45.00" y="368.49" font-size="10.30" text-anchor="end" fill="#000" stroke="#000" stroke-width="0.12" font-weight="normal" font-style="normal" textLength="14.3" lengthAdjust="spacingAndGlyphs">1.4</text>
<text x="45.00" y="351.29" font-size="10.30" text-anchor="end" fill="#000" stroke="#000" stroke-width="0.12" font-weight="normal" font-style="normal" textLength="14.3" lengthAdjust="spacingAndGlyphs">1.6</text>
<text x="53.20" y="496.40" font-size="10.60" text-anchor="middle" fill="#000" stroke="#000" stroke-width="0.12" font-weight="normal" font-style="normal" >0</text>
<text x="85.40" y="496.40" font-size="10.60" text-anchor="middle" fill="#000" stroke="#000" stroke-width="0.12" font-weight="normal" font-style="normal" textLength="11.6" lengthAdjust="spacingAndGlyphs">10</text>
<text x="117.60" y="496.40" font-size="10.60" text-anchor="middle" fill="#000" stroke="#000" stroke-width="0.12" font-weight="normal" font-style="normal" textLength="11.6" lengthAdjust="spacingAndGlyphs">20</text>
<text x="149.80" y="496.40" font-size="10.60" text-anchor="middle" fill="#000" stroke="#000" stroke-width="0.12" font-weight="normal" font-style="normal" textLength="11.6" lengthAdjust="spacingAndGlyphs">30</text>
<text x="182.00" y="496.40" font-size="10.60" text-anchor="middle" fill="#000" stroke="#000" stroke-width="0.12" font-weight="normal" font-style="normal" textLength="11.6" lengthAdjust="spacingAndGlyphs">40</text>
<text x="214.20" y="496.40" font-size="10.60" text-anchor="middle" fill="#000" stroke="#000" stroke-width="0.12" font-weight="normal" font-style="normal" textLength="11.6" lengthAdjust="spacingAndGlyphs">50</text>
<text x="246.40" y="496.40" font-size="10.60" text-anchor="middle" fill="#000" stroke="#000" stroke-width="0.12" font-weight="normal" font-style="normal" textLength="11.6" lengthAdjust="spacingAndGlyphs">60</text>
<text x="278.60" y="496.40" font-size="10.60" text-anchor="middle" fill="#000" stroke="#000" stroke-width="0.12" font-weight="normal" font-style="normal" textLength="11.6" lengthAdjust="spacingAndGlyphs">70</text>
<text x="310.80" y="496.40" font-size="10.60" text-anchor="middle" fill="#000" stroke="#000" stroke-width="0.12" font-weight="normal" font-style="normal" textLength="11.6" lengthAdjust="spacingAndGlyphs">80</text>
<text transform="translate(22.2,455.4) rotate(-90)" x="0" y="0" font-size="13" textLength="95.3" lengthAdjust="spacingAndGlyphs" stroke="#000" stroke-width="0.45">Relative telomere length</text>
<text x="168.3" y="513.0" font-size="12.5" textLength="45.2" lengthAdjust="spacingAndGlyphs" stroke="#000" stroke-width="0.45">Age (years)</text>
<g fill="none" stroke="#c8102e" stroke-width="1.3">
<path d="M53.20,348.79 L56.42,349.80 L59.64,350.80 L62.86,351.80 L66.08,352.78 L69.30,353.76 L72.52,354.74 L75.74,355.70 L78.96,356.66 L82.18,357.61 L85.40,358.55 L88.62,359.49 L91.84,360.41 L95.06,361.34 L98.28,362.25 L101.50,363.16 L104.72,364.06 L107.94,364.95 L111.16,365.84 L114.38,366.72 L117.60,367.59 L120.82,368.45 L124.04,369.31 L127.26,370.17 L130.48,371.01 L133.70,371.85 L136.92,372.69 L140.14,373.51 L143.36,374.33 L146.58,375.15 L149.80,375.96 L153.02,376.76 L156.24,377.55 L159.46,378.34 L162.68,379.13 L165.90,379.90 L169.12,380.67 L172.34,381.44 L175.56,382.20 L178.78,382.95 L182.00,383.70 L185.22,384.44 L188.44,385.18 L191.66,385.91 L194.88,386.64 L198.10,387.36 L201.32,388.07 L204.54,388.78 L207.76,389.48 L210.98,390.18 L214.20,390.87 L217.42,391.56 L220.64,392.24 L223.86,392.92 L227.08,393.59 L230.30,394.26 L233.52,394.92 L236.74,395.57 L239.96,396.22 L243.18,396.87 L246.40,397.51 L249.62,398.15 L252.84,398.78 L256.06,399.41 L259.28,400.03 L262.50,400.64 L265.72,401.26 L268.94,401.86 L272.16,402.47 L275.38,403.06 L278.60,403.66 L281.82,404.25 L285.04,404.83 L288.26,405.41 L291.48,405.99 L294.70,406.56 L297.92,407.12 L301.14,407.69 L304.36,408.24 L307.58,408.80 L310.80,409.35 L314.02,409.89 L317.24,410.43 L320.46,410.97 L323.68,411.50 L326.90,412.03" stroke-dasharray="5.6 4.1 1.2 3.4"/>
<path d="M53.20,368.80 L56.42,369.65 L59.64,370.50 L62.86,371.35 L66.08,372.18 L69.30,373.02 L72.52,373.84 L75.74,374.66 L78.96,375.47 L82.18,376.27 L85.40,377.07 L88.62,377.87 L91.84,378.65 L95.06,379.43 L98.28,380.21 L101.50,380.98 L104.72,381.74 L107.94,382.50 L111.16,383.25 L114.38,383.99 L117.60,384.73 L120.82,385.47 L124.04,386.20 L127.26,386.92 L130.48,387.64 L133.70,388.35 L136.92,389.06 L140.14,389.76 L143.36,390.45 L146.58,391.14 L149.80,391.83 L153.02,392.51 L156.24,393.18 L159.46,393.85 L162.68,394.51 L165.90,395.17 L169.12,395.83 L172.34,396.48 L175.56,397.12 L178.78,397.76 L182.00,398.39 L185.22,399.02 L188.44,399.65 L191.66,400.27 L194.88,400.88 L198.10,401.49 L201.32,402.10 L204.54,402.70 L207.76,403.29 L210.98,403.88 L214.20,404.47 L217.42,405.05 L220.64,405.63 L223.86,406.21 L227.08,406.77 L230.30,407.34 L233.52,407.90 L236.74,408.46 L239.96,409.01 L243.18,409.56 L246.40,410.10 L249.62,410.64 L252.84,411.17 L256.06,411.70 L259.28,412.23 L262.50,412.75 L265.72,413.27 L268.94,413.79 L272.16,414.30 L275.38,414.81 L278.60,415.31 L281.82,415.81 L285.04,416.30 L288.26,416.80 L291.48,417.28 L294.70,417.77 L297.92,418.25 L301.14,418.72 L304.36,419.20 L307.58,419.67 L310.80,420.13 L314.02,420.59 L317.24,421.05 L320.46,421.51 L323.68,421.96 L326.90,422.41" stroke-dasharray="5.6 4.1 1.2 3.4"/>
<path d="M53.20,398.77 L56.42,399.41 L59.64,400.05 L62.86,400.68 L66.08,401.31 L69.30,401.93 L72.52,402.55 L75.74,403.16 L78.96,403.76 L82.18,404.37 L85.40,404.96 L88.62,405.56 L91.84,406.14 L95.06,406.73 L98.28,407.31 L101.50,407.88 L104.72,408.45 L107.94,409.01 L111.16,409.58 L114.38,410.13 L117.60,410.68 L120.82,411.23 L124.04,411.77 L127.26,412.31 L130.48,412.85 L133.70,413.38 L136.92,413.90 L140.14,414.43 L143.36,414.94 L146.58,415.46 L149.80,415.97 L153.02,416.47 L156.24,416.98 L159.46,417.47 L162.68,417.97 L165.90,418.46 L169.12,418.95 L172.34,419.43 L175.56,419.91 L178.78,420.38 L182.00,420.85 L185.22,421.32 L188.44,421.78 L191.66,422.24 L194.88,422.70 L198.10,423.15 L201.32,423.60 L204.54,424.05 L207.76,424.49 L210.98,424.93 L214.20,425.37 L217.42,425.80 L220.64,426.23 L223.86,426.65 L227.08,427.07 L230.30,427.49 L233.52,427.91 L236.74,428.32 L239.96,428.73 L243.18,429.13 L246.40,429.54 L249.62,429.94 L252.84,430.33 L256.06,430.73 L259.28,431.12 L262.50,431.50 L265.72,431.89 L268.94,432.27 L272.16,432.64 L275.38,433.02 L278.60,433.39 L281.82,433.76 L285.04,434.13 L288.26,434.49 L291.48,434.85 L294.70,435.21 L297.92,435.56 L301.14,435.91 L304.36,436.26 L307.58,436.61 L310.80,436.95 L314.02,437.29 L317.24,437.63 L320.46,437.97 L323.68,438.30 L326.90,438.63"/>
<path d="M53.20,419.20 L56.42,419.68 L59.64,420.17 L62.86,420.65 L66.08,421.13 L69.30,421.60 L72.52,422.07 L75.74,422.54 L78.96,423.00 L82.18,423.46 L85.40,423.91 L88.62,424.36 L91.84,424.81 L95.06,425.25 L98.28,425.69 L101.50,426.13 L104.72,426.56 L107.94,426.99 L111.16,427.42 L114.38,427.84 L117.60,428.26 L120.82,428.68 L124.04,429.09 L127.26,429.50 L130.48,429.91 L133.70,430.31 L136.92,430.71 L140.14,431.10 L143.36,431.50 L146.58,431.89 L149.80,432.28 L153.02,432.66 L156.24,433.04 L159.46,433.42 L162.68,433.79 L165.90,434.16 L169.12,434.53 L172.34,434.90 L175.56,435.26 L178.78,435.62 L182.00,435.98 L185.22,436.33 L188.44,436.69 L191.66,437.03 L194.88,437.38 L198.10,437.72 L201.32,438.06 L204.54,438.40 L207.76,438.74 L210.98,439.07 L214.20,439.40 L217.42,439.73 L220.64,440.05 L223.86,440.37 L227.08,440.69 L230.30,441.01 L233.52,441.32 L236.74,441.63 L239.96,441.94 L243.18,442.25 L246.40,442.55 L249.62,442.86 L252.84,443.16 L256.06,443.45 L259.28,443.75 L262.50,444.04 L265.72,444.33 L268.94,444.62 L272.16,444.90 L275.38,445.19 L278.60,445.47 L281.82,445.75 L285.04,446.02 L288.26,446.30 L291.48,446.57 L294.70,446.84 L297.92,447.10 L301.14,447.37 L304.36,447.63 L307.58,447.89 L310.80,448.15 L314.02,448.41 L317.24,448.67 L320.46,448.92 L323.68,449.17 L326.90,449.42" stroke-dasharray="5.6 4.1 1.2 3.4"/>
<path d="M53.20,428.17 L56.42,428.60 L59.64,429.03 L62.86,429.45 L66.08,429.87 L69.30,430.29 L72.52,430.70 L75.74,431.11 L78.96,431.52 L82.18,431.92 L85.40,432.32 L88.62,432.71 L91.84,433.11 L95.06,433.50 L98.28,433.88 L101.50,434.26 L104.72,434.64 L107.94,435.02 L111.16,435.39 L114.38,435.77 L117.60,436.13 L120.82,436.50 L124.04,436.86 L127.26,437.22 L130.48,437.57 L133.70,437.93 L136.92,438.27 L140.14,438.62 L143.36,438.97 L146.58,439.31 L149.80,439.64 L153.02,439.98 L156.24,440.31 L159.46,440.64 L162.68,440.97 L165.90,441.29 L169.12,441.62 L172.34,441.94 L175.56,442.25 L178.78,442.57 L182.00,442.88 L185.22,443.19 L188.44,443.49 L191.66,443.80 L194.88,444.10 L198.10,444.40 L201.32,444.69 L204.54,444.99 L207.76,445.28 L210.98,445.57 L214.20,445.85 L217.42,446.14 L220.64,446.42 L223.86,446.70 L227.08,446.98 L230.30,447.25 L233.52,447.52 L236.74,447.79 L239.96,448.06 L243.18,448.33 L246.40,448.59 L249.62,448.85 L252.84,449.11 L256.06,449.37 L259.28,449.63 L262.50,449.88 L265.72,450.13 L268.94,450.38 L272.16,450.63 L275.38,450.87 L278.60,451.11 L281.82,451.35 L285.04,451.59 L288.26,451.83 L291.48,452.06 L294.70,452.30 L297.92,452.53 L301.14,452.76 L304.36,452.99 L307.58,453.21 L310.80,453.43 L314.02,453.66 L317.24,453.88 L320.46,454.09 L323.68,454.31 L326.90,454.52" stroke-dasharray="5.6 4.1 1.2 3.4"/>
</g>
<text x="331.40" y="414.50" font-size="10.00" stroke="#000" stroke-width="0.15" textLength="12.23" lengthAdjust="spacingAndGlyphs">99</text>
<text x="343.73" y="410.40" font-size="6.80" stroke="#000" stroke-width="0.1">th</text>
<text x="331.40" y="426.00" font-size="10.00" stroke="#000" stroke-width="0.15" textLength="12.23" lengthAdjust="spacingAndGlyphs">90</text>
<text x="343.73" y="421.90" font-size="6.80" stroke="#000" stroke-width="0.1">th</text>
<text x="331.20" y="441.60" font-size="10.00" stroke="#000" stroke-width="0.15" textLength="12.23" lengthAdjust="spacingAndGlyphs">50</text>
<text x="343.53" y="437.50" font-size="6.80" stroke="#000" stroke-width="0.1">th</text>
<text x="331.40" y="451.50" font-size="10.00" stroke="#000" stroke-width="0.15" textLength="12.23" lengthAdjust="spacingAndGlyphs">10</text>
<text x="343.73" y="447.40" font-size="6.80" stroke="#000" stroke-width="0.1">th</text>
<text x="331.40" y="461.60" font-size="10.00" stroke="#000" stroke-width="0.15" textLength="6.12" lengthAdjust="spacingAndGlyphs">1</text>
<text x="338.02" y="457.50" font-size="6.80" stroke="#000" stroke-width="0.1">st</text>
<circle cx="57.4" cy="453.8" r="2.9" fill="#0d5892"/>
<circle cx="132.4" cy="428.6" r="2.9" fill="#3db54a"/>
<circle cx="132.4" cy="448.2" r="2.9" fill="#55226f"/>
<circle cx="281" cy="339.20" r="2.9" fill="#0d5892"/>
<text x="287.70" y="342.60" font-size="10.00" text-anchor="start" fill="#000" stroke="#000" stroke-width="0.12" font-weight="normal" font-style="normal" textLength="35.91" lengthAdjust="spacingAndGlyphs">Proband</text>
<circle cx="281" cy="350.20" r="2.9" fill="#3db54a"/>
<text x="287.70" y="353.60" font-size="10.00" text-anchor="start" fill="#000" stroke="#000" stroke-width="0.12" font-weight="normal" font-style="normal" textLength="27.45" lengthAdjust="spacingAndGlyphs">Father</text>
<circle cx="281" cy="361.20" r="2.9" fill="#55226f"/>
<text x="287.70" y="364.60" font-size="10.00" text-anchor="start" fill="#000" stroke="#000" stroke-width="0.12" font-weight="normal" font-style="normal" textLength="29.56" lengthAdjust="spacingAndGlyphs">Mother</text>
<text x="414.20" y="342.60" font-size="10.00" text-anchor="end" fill="#000" stroke="#000" stroke-width="0.20" font-weight="normal" font-style="normal" >kb</text>
<text x="414.30" y="359.90" font-size="10.00" text-anchor="end" fill="#000" stroke="#000" stroke-width="0.20" font-weight="normal" font-style="normal" textLength="20.63" lengthAdjust="spacingAndGlyphs">10.0</text>
<text x="414.30" y="368.40" font-size="10.00" text-anchor="end" fill="#000" stroke="#000" stroke-width="0.20" font-weight="normal" font-style="normal" textLength="14.73" lengthAdjust="spacingAndGlyphs">8.0</text>
<text x="414.30" y="377.60" font-size="10.00" text-anchor="end" fill="#000" stroke="#000" stroke-width="0.20" font-weight="normal" font-style="normal" textLength="14.73" lengthAdjust="spacingAndGlyphs">6.0</text>
<text x="414.30" y="386.50" font-size="10.00" text-anchor="end" fill="#000" stroke="#000" stroke-width="0.20" font-weight="normal" font-style="normal" textLength="14.73" lengthAdjust="spacingAndGlyphs">5.0</text>
<text x="414.30" y="397.50" font-size="10.00" text-anchor="end" fill="#000" stroke="#000" stroke-width="0.20" font-weight="normal" font-style="normal" textLength="14.73" lengthAdjust="spacingAndGlyphs">4.0</text>
<text x="414.30" y="415.60" font-size="10.00" text-anchor="end" fill="#000" stroke="#000" stroke-width="0.20" font-weight="normal" font-style="normal" textLength="14.73" lengthAdjust="spacingAndGlyphs">3.0</text>
<text x="414.30" y="451.00" font-size="10.00" text-anchor="end" fill="#000" stroke="#000" stroke-width="0.20" font-weight="normal" font-style="normal" textLength="14.73" lengthAdjust="spacingAndGlyphs">2.0</text>
<text x="414.30" y="477.70" font-size="10.00" text-anchor="end" fill="#000" stroke="#000" stroke-width="0.20" font-weight="normal" font-style="normal" textLength="14.73" lengthAdjust="spacingAndGlyphs">1.5</text>
<text x="414.30" y="516.80" font-size="10.00" text-anchor="end" fill="#000" stroke="#000" stroke-width="0.20" font-weight="normal" font-style="normal" textLength="14.73" lengthAdjust="spacingAndGlyphs">1.0</text>
<defs><linearGradient id="gbase" x1="0" y1="307" x2="0" y2="533" gradientUnits="userSpaceOnUse"><stop offset="0.0000" stop-color="#eaeaea"/><stop offset="0.1018" stop-color="#e6e6e6"/><stop offset="0.2345" stop-color="#d4d4d4"/><stop offset="0.4115" stop-color="#d2d2d2"/><stop offset="0.5442" stop-color="#dadada"/><stop offset="0.6327" stop-color="#dcdcdc"/><stop offset="1.0000" stop-color="#e2e2e2"/></linearGradient></defs>
<defs><linearGradient id="gpro" x1="0" y1="307" x2="0" y2="533" gradientUnits="userSpaceOnUse"><stop offset="0.0000" stop-color="#e2e2e2"/><stop offset="0.1460" stop-color="#dadada"/><stop offset="0.1903" stop-color="#cdcdcd"/><stop offset="0.2257" stop-color="#bcbcbc"/><stop offset="0.2611" stop-color="#a8a8a8"/><stop offset="0.3053" stop-color="#989898"/><stop offset="0.3496" stop-color="#949494"/><stop offset="0.3938" stop-color="#9a9a9a"/><stop offset="0.4381" stop-color="#aaaaaa"/><stop offset="0.4912" stop-color="#c0c0c0"/><stop offset="0.5442" stop-color="#cecece"/><stop offset="0.6327" stop-color="#dadada"/><stop offset="0.7655" stop-color="#dedede"/><stop offset="1.0000" stop-color="#e0e0e0"/></linearGradient></defs>
<defs><linearGradient id="gfat" x1="0" y1="307" x2="0" y2="533" gradientUnits="userSpaceOnUse"><stop offset="0.0000" stop-color="#e0e0e0"/><stop offset="0.1195" stop-color="#d4d4d4"/><stop offset="0.1549" stop-color="#bcbcbc"/><stop offset="0.1814" stop-color="#9a9a9a"/><stop offset="0.2080" stop-color="#7a7a7a"/><stop offset="0.2345" stop-color="#666666"/><stop offset="0.2611" stop-color="#606060"/><stop offset="0.2920" stop-color="#6a6a6a"/><stop offset="0.3230" stop-color="#7c7c7c"/><stop offset="0.3584" stop-color="#929292"/><stop offset="0.4027" stop-color="#a8a8a8"/><stop offset="0.4558" stop-color="#bebebe"/><stop offset="0.5221" stop-color="#d0d0d0"/><stop offset="0.6327" stop-color="#dadada"/><stop offset="0.7655" stop-color="#dedede"/><stop offset="1.0000" stop-color="#e0e0e0"/></linearGradient></defs>
<defs><linearGradient id="gmot" x1="0" y1="307" x2="0" y2="533" gradientUnits="userSpaceOnUse"><stop offset="0.0000" stop-color="#e2e2e2"/><stop offset="0.1681" stop-color="#d6d6d6"/><stop offset="0.2168" stop-color="#c6c6c6"/><stop offset="0.2611" stop-color="#b4b4b4"/><stop offset="0.3142" stop-color="#a4a4a4"/><stop offset="0.3673" stop-color="#a0a0a0"/><stop offset="0.4115" stop-color="#a8a8a8"/><stop offset="0.4646" stop-color="#bababa"/><stop offset="0.5221" stop-color="#cccccc"/><stop offset="0.6327" stop-color="#dbdbdb"/><stop offset="0.7655" stop-color="#dedede"/><stop offset="1.0000" stop-color="#e0e0e0"/></linearGradient></defs>
<defs><linearGradient id="gstrip" x1="0" y1="307" x2="0" y2="533" gradientUnits="userSpaceOnUse"><stop offset="0.0000" stop-color="#ececec"/><stop offset="0.1460" stop-color="#e2e2e2"/><stop offset="0.2345" stop-color="#c6c6c6"/><stop offset="0.3451" stop-color="#c4c4c4"/><stop offset="0.4558" stop-color="#d4d4d4"/><stop offset="0.5442" stop-color="#dedede"/><stop offset="0.6327" stop-color="#e0e0e0"/><stop offset="1.0000" stop-color="#e4e4e4"/></linearGradient></defs>
<defs><filter id="hb" x="-20%" y="-5%" width="140%" height="110%"><feGaussianBlur stdDeviation="1.2 0.8"/></filter>
<filter id="noise" x="0" y="0" width="100%" height="100%"><feTurbulence type="fractalNoise" baseFrequency="0.9" numOctaves="2" seed="3" result="n"/><feColorMatrix in="n" type="matrix" values="0 0 0 0 0  0 0 0 0 0  0 0 0 0 0  0 0 0 -0.9 0.55" result="a"/><feComposite in="a" in2="SourceGraphic" operator="in"/></filter></defs>
<rect x="418" y="305.3" width="72" height="228.6" fill="#3a3a3a"/>
<defs><linearGradient id="glad" x1="419" y1="0" x2="434.8" y2="0" gradientUnits="userSpaceOnUse"><stop offset="0" stop-color="#848484"/><stop offset="0.15" stop-color="#929292"/><stop offset="0.6" stop-color="#969696"/><stop offset="0.88" stop-color="#9e9e9e"/><stop offset="1" stop-color="#8a8a8a"/></linearGradient></defs>
<rect x="419.1" y="307.1" width="15.9" height="225.6" fill="url(#glad)"/>
<g clip-path="url(#gelclip)">
<rect x="435" y="307" width="55" height="226" fill="url(#gbase)"/>
<g filter="url(#hb)">
<rect x="434" y="300" width="5.6" height="240" fill="#e6e6e6"/>
<rect x="439.6" y="300" width="12.6" height="240" fill="url(#gpro)"/>
<rect x="452.2" y="300" width="3.6" height="240" fill="url(#gstrip)"/>
<rect x="455.8" y="300" width="14.2" height="240" fill="url(#gfat)"/>
<rect x="470.0" y="300" width="3.4" height="240" fill="url(#gstrip)"/>
<rect x="473.4" y="300" width="12.8" height="240" fill="url(#gmot)"/>
<rect x="486.2" y="300" width="4" height="240" fill="url(#gstrip)"/>
</g>
<ellipse cx="462.6" cy="364" rx="4.2" ry="7" fill="#303030" opacity="0.5" filter="url(#blur2)"/>
<rect x="435" y="307" width="55" height="226" fill="#000" opacity="0.07" filter="url(#noise)"/>
</g>
<rect x="434.3" y="307.1" width="0.8" height="225.6" fill="#858585"/>
<rect x="435" y="305.3" width="55" height="1.6" fill="#7a7a7a"/>
<rect x="418" y="305.3" width="17" height="1.8" fill="#444"/>
<circle cx="455.3" cy="422.9" r="1.5" fill="#111"/>
<circle cx="449.7" cy="406" r="0.9" fill="#999" opacity="0.6"/>
<circle cx="470.5" cy="433.6" r="0.9" fill="#aaa" opacity="0.6"/>
<rect x="421.2" y="355.80" width="7.6" height="3.00" rx="1.3" fill="#fff" filter="url(#blur1)"/>
<rect x="421.2" y="363.05" width="7.6" height="2.90" rx="1.3" fill="#fff" filter="url(#blur1)"/>
<rect x="421.2" y="372.75" width="7.6" height="3.30" rx="1.3" fill="#fff" filter="url(#blur1)"/>
<rect x="421.2" y="380.35" width="7.6" height="3.70" rx="1.3" fill="#fff" filter="url(#blur1)"/>
<rect x="421.2" y="392.85" width="7.6" height="3.10" rx="1.3" fill="#fff" filter="url(#blur1)"/>
<rect x="421.2" y="445.55" width="7.6" height="3.10" rx="1.3" fill="#fff" filter="url(#blur1)"/>
<rect x="421.2" y="472.70" width="7.6" height="3.00" rx="1.3" fill="#fff" filter="url(#blur1)"/>
<rect x="423.2" y="396" width="2.8" height="12" fill="#a6a6a6" filter="url(#blur1)"/>
<ellipse cx="424.9" cy="411" rx="4.1" ry="3.5" fill="#fff" filter="url(#blur1)"/>
<ellipse cx="424.6" cy="515.1" rx="4.3" ry="2.2" fill="#fff" filter="url(#blur1)"/>
<text transform="translate(443.70,302.5) rotate(-32)" x="0" y="0" font-size="10.3" stroke="#000" stroke-width="0.25">Proband</text>
<text transform="translate(461.80,302.5) rotate(-32)" x="0" y="0" font-size="10.3" stroke="#000" stroke-width="0.25">Father</text>
<text transform="translate(479.30,302.5) rotate(-32)" x="0" y="0" font-size="10.3" stroke="#000" stroke-width="0.25">Mother</text>
<rect x="0" y="0" width="520" height="1.5" fill="#000"/>
<rect x="0" y="543.5" width="520" height="1.5" fill="#000"/>
<rect x="0" y="0" width="1.5" height="545" fill="#000"/>
<rect x="518.5" y="0" width="1.5" height="545" fill="#000"/>
</svg></body></html>
